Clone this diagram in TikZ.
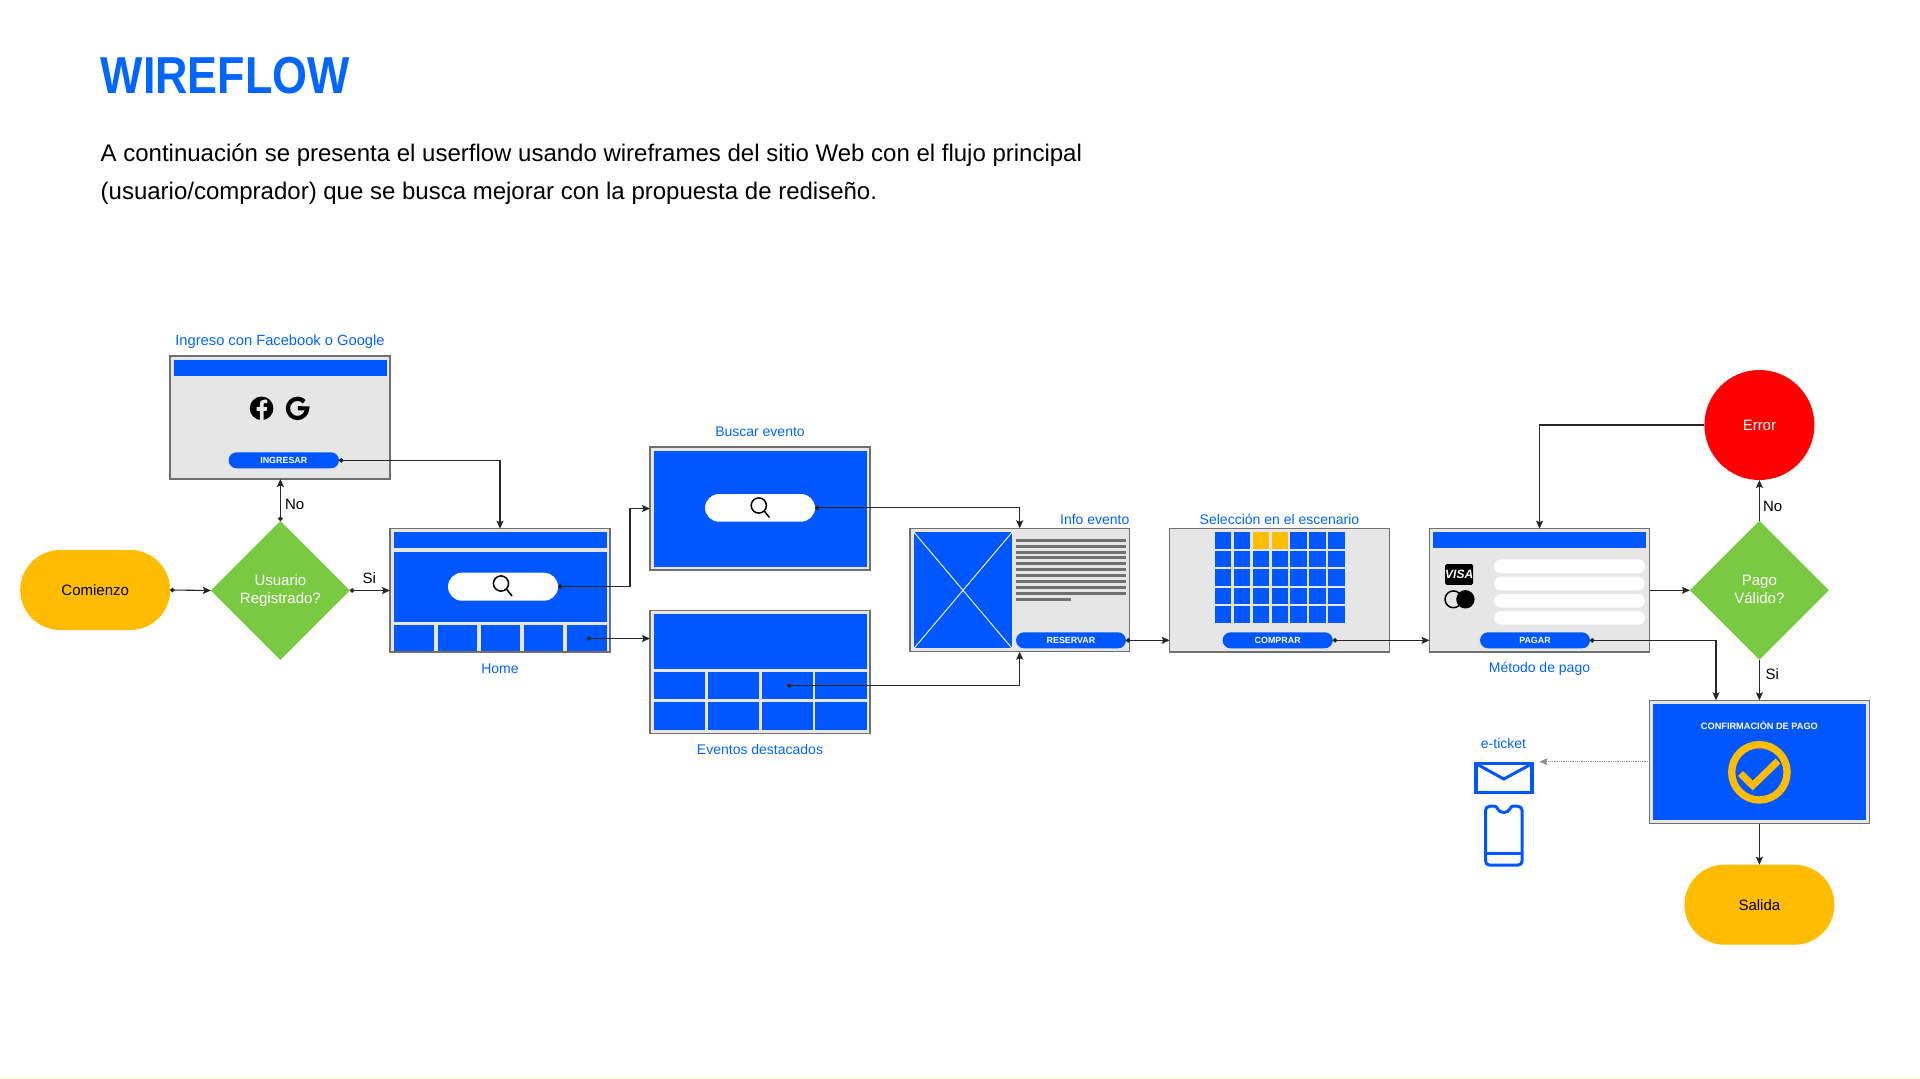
\documentclass[tikz,border=0pt]{standalone}
\usepackage{fontspec}
\setmainfont{Liberation Sans}
\newfontfamily\titlefont[FakeStretch=0.863]{Liberation Sans Bold}
\usetikzlibrary{arrows.meta,shapes.geometric,shapes.misc,fit}
\definecolor{wfblue}{HTML}{0057FF}
\definecolor{txtblue}{HTML}{0066FF}
\definecolor{wfyellow}{HTML}{FFBC00}
\definecolor{wfgreen}{HTML}{7AC943}
\definecolor{wfgray}{HTML}{E6E6E6}
\definecolor{wfedge}{HTML}{707070}
\tikzset{
  screen/.style={draw=wfedge,line width=1.4pt,fill=wfgray,inner sep=0pt,outer sep=0pt},
  panel/.style={fill=wfblue,draw=none,inner sep=0pt,outer sep=0pt},
  pill/.style={fill=wfblue,draw=none,text=white,rounded corners=8pt,minimum height=16pt,inner sep=0pt,outer sep=0pt,font=\fontsize{8.9}{10}\selectfont\bfseries},
  field/.style={fill=white,draw=none,rounded corners=7pt,inner sep=0pt,outer sep=0pt},
  caption/.style={text=txtblue,inner sep=0pt,font=\fontsize{14}{17}\selectfont},
  terminal/.style={fill=wfyellow,draw=none,rounded rectangle,minimum width=150pt,minimum height=80pt,inner sep=0pt,outer sep=0pt,font=\fontsize{15}{18}\selectfont},
  decision/.style={fill=wfgreen,draw=none,diamond,aspect=1,minimum width=139pt,minimum height=139pt,inner sep=0pt,outer sep=0pt,text=white,align=center,font=\fontsize{15}{17.5}\selectfont},
  edgelabel/.style={inner sep=0pt,font=\fontsize{15}{18}\selectfont},
  conn/.style={draw=black!85,line width=1.1pt,-{Stealth[length=8pt,width=7pt,inset=1.5pt]}},
  dotconn/.style={conn,{Circle[length=4.5pt,width=4.5pt]}-{Stealth[length=8pt,width=7pt,inset=1.5pt]}},
  hint/.style={draw=black!45,line width=0.8pt,densely dotted,-{Stealth[length=8pt,width=7pt,inset=1.5pt]}},
  txtline/.style={draw=wfedge,line width=3pt},
  lens/.style={draw=black,line width=1.5pt}
}
\begin{document}
\begin{tikzpicture}[x=1pt,y=-1pt]
\useasboundingbox[fill=white] (0,0) rectangle (1920,1079);
\fill[yellow!25] (0,1078) rectangle (1920,1079);
% header text
\node[anchor=base west,inner sep=0pt,text=txtblue,font=\fontsize{52}{60}\titlefont] (title) at (100.5,93) {WIREFLOW};
\node[anchor=base west,inner sep=0pt,font=\fontsize{24}{30}\selectfont] (introa) at (100.5,161.5) {A continuación se presenta el userflow usando wireframes del sitio Web con el flujo principal};
\node[anchor=base west,inner sep=0pt,font=\fontsize{24}{30}\selectfont] (introb) at (100.5,199) {(usuario/comprador) que se busca mejorar con la propuesta de rediseño.};

% start / decision
\node[terminal,minimum width=150pt] (start) at (95.2,590) {Comienzo};
\node[decision] (userq) at (280.4,590.5) {Usuario\\Registrado?};

% login screen
\node[screen,fit={(170,356)(390,479)}] (login) {};
\node[panel,fit={(174,360)(386.5,376)}] (loginbar) {};
\fill[black] (261.6,408.3) circle[radius=11.8pt];
\fill[wfgray] (263.5,420) -- (263.5,410.8) -- (266.6,410.8) -- (267.2,407.2) -- (263.5,407.2) -- (263.5,404.9) .. controls (263.5,403.6) and (264.2,403) .. (265.4,403) -- (267.3,403) -- (267.3,399.8) .. controls (263.5,399.2) and (259.8,399.8) .. (259.8,404.4) -- (259.8,407.2) -- (256.5,407.2) -- (256.5,410.8) -- (259.8,410.8) -- (259.8,420) -- cycle;
\draw[black,line width=4.2pt] (304.3,401.6) arc[start angle=45,end angle=360,radius=9.6pt] -- (297.8,408.3);
\node[pill,minimum width=110.4pt] (ingresar) at (283.8,460.3) {INGRESAR};
\node[caption,font=\fontsize{14.7}{17}\selectfont] (loginlabel) at (280,341.5) {Ingreso con Facebook o Google};

% home screen
\node[screen,fit={(390,528.7)(610,652)}] (home) {};
\node[panel,fit={(394,532.3)(606.5,548.3)}] (homebar) {};
\node[panel,fit={(394,552.3)(606.5,621.7)}] (homehero) {};
\node[panel,fit={(394,625)(433.5,651.3)}] (homec1) {};
\node[panel,fit={(437.5,625)(476.7,651.3)}] (homec2) {};
\node[panel,fit={(480.8,625)(520,651.3)}] (homec3) {};
\node[panel,fit={(524,625)(563,651.3)}] (homec4) {};
\node[panel,fit={(567,625)(606.5,651.3)}] (homec5) {};
\coordinate (homedot) at (586.5,638.5);
\node[field,rounded corners=14pt,fit={(448,572.7)(558,600.7)}] (homesearch) {};
\draw[lens] (501,583.5) circle[radius=7.6pt] (506.4,589) -- (512,596);
\node[caption] (homelabel) at (500,668.5) {Home};

% search screen
\node[screen,fit={(650,447)(870,570)}] (search) {};
\node[panel,fit={(653.5,450.7)(866.5,566.7)}] (searchhero) {};
\node[field,rounded corners=14pt,fit={(705,494)(815,521.7)}] (searchbox) {};
\draw[lens] (758.8,505.5) circle[radius=7.6pt] (764.2,511) -- (769.5,517.5);
\node[caption] (searchlabel) at (760,431.7) {Buscar evento};

% featured screen
\node[screen,fit={(650,610.7)(870,733.7)}] (featured) {};
\node[panel,fit={(653.5,614.3)(866.5,669.3)}] (feathero) {};
\foreach \n/\xa/\xb in {1/653.5/705,2/707.8/759,3/761.6/812.7,4/815/866.5}{
  \node[panel,fit={(\xa,671.7)(\xb,699.3)}] (feata\n) {};
  \node[panel,fit={(\xa,702.3)(\xb,730.3)}] (featb\n) {};
}
\coordinate (featdot) at (787,685.7);
\node[caption] (featlabel) at (760,749.3) {Eventos destacados};

% info screen
\node[screen,fit={(910,528.3)(1129.4,651.7)}] (info) {};
\node[panel,fit={(914,532.3)(1012,648.3)}] (infoimg) {};
\draw[white,line width=0.9pt] (infoimg.north west) -- (infoimg.south east) (infoimg.north east) -- (infoimg.south west);
\foreach \yy in {540,546,552,557.7,563.7,569.7,575.7,581.7,587.7,593.7}{
  \draw[txtline] (1015.5,\yy) -- (1126,\yy);
}
\draw[txtline] (1015.5,599.7) -- (1071,599.7);
\node[pill,minimum width=110pt] (reservar) at (1071,640.3) {RESERVAR};
\node[caption,anchor=east] (infolabel) at (1129.6,519.3) {Info evento};

% seat selection screen
\node[screen,fit={(1169.7,528.7)(1389.7,652)}] (seats) {};
\foreach \r in {0,...,4}{
  \foreach \c in {0,...,6}{
    \pgfmathsetmacro{\sx}{1214.7+18.94*\c}
    \pgfmathsetmacro{\sy}{532.3+18.5*\r}
    \fill[wfblue] (\sx,\sy) rectangle ++(16.5,16.3);
  }
}
\fill[wfyellow] (1252.6,532.3) rectangle ++(16.5,16.3);
\fill[wfyellow] (1271.5,532.3) rectangle ++(16.5,16.3);
\node[pill,minimum width=110.2pt] (comprar) at (1277.7,640.3) {COMPRAR};
\node[caption] (seatslabel) at (1279.5,519.3) {Selección en el escenario};

% payment screen
\node[screen,fit={(1429.5,528.7)(1649.6,652)}] (pay) {};
\node[panel,fit={(1433.4,532.3)(1645.5,548.3)}] (paybar) {};
\node[field,fit={(1494,559.3)(1645,573.3)}] (payf1) {};
\node[field,fit={(1494,576.7)(1645,590.3)}] (payf2) {};
\node[field,fit={(1494,594)(1645,607.7)}] (payf3) {};
\node[field,fit={(1494,611)(1645,624.7)}] (payf4) {};
\node[fill=black,rounded corners=1.5pt,minimum width=26.3pt,minimum height=20.7pt,inner sep=0pt,text=white,font=\fontsize{12}{12}\selectfont\bfseries\itshape] (visa) at (1459.2,574.4) {VISA};
\draw[black,line width=1.5pt] (1453.4,599.3) circle[radius=8.4pt];
\fill[black] (1465.4,599.3) circle[radius=9.2pt];
\node[pill,minimum width=110pt] (pagar) at (1535,640.3) {PAGAR};
\node[caption] (paylabel) at (1539.5,668.5) {Método de pago};

% decision / error
\node[decision] (payq) at (1759.4,590.3) {Pago\\Válido?\rule[-1.7pt]{0pt}{0pt}};
\node[circle,fill=red,minimum size=110pt,inner sep=0pt,outer sep=0pt,text=white,font=\fontsize{15}{18}\selectfont] (error) at (1759.4,425) {Error};

% confirmation screen
\node[screen,fit={(1649.7,700.3)(1869.3,823.7)}] (confirm) {};
\node[panel,fit={(1653.3,704)(1865.7,820)}] (confirmhero) {};
\node[inner sep=0pt,text=white,font=\fontsize{9.2}{11}\selectfont\bfseries] (confirmtitle) at (1759.4,725.7) {CONFIRMACIÓN DE PAGO};
\draw[wfyellow,line width=7.3pt] (1759.4,772.3) circle[radius=27.7pt];
\draw[wfyellow,line width=7pt] (1740.5,773.5) -- (1752.7,785.5) -- (1778,761);
\coordinate (confirmdrop) at (1716,700.3);
\node[terminal] (finish) at (1759.4,904.7) {Salida};

% e-ticket
\node[caption] (ticketlabel) at (1503.5,743.3) {e-ticket};
\node[draw=wfblue,line width=3.4pt,minimum width=56pt,minimum height=29.5pt,inner sep=0pt,outer sep=1.7pt] (mail) at (1503.8,778) {};
\coordinate (hintend) at (1539.5,761.7);
\draw[wfblue,line width=3pt] (1477.5,764.5) -- (1503.8,779) -- (1530.5,764.5);
\draw[wfblue,line width=3pt,line join=round]
  (1490,806.2) -- (1495,806.2) .. controls (1497.5,806.2) and (1497.5,812.5) .. (1503.8,812.5)
  .. controls (1510,812.5) and (1510,806.2) .. (1512.5,806.2) -- (1517.5,806.2)
  .. controls (1520.5,806.2) and (1522.2,808) .. (1522.2,811) -- (1522.2,860.5)
  .. controls (1522.2,863.5) and (1520.5,865.2) .. (1517.5,865.2) -- (1490,865.2)
  .. controls (1487,865.2) and (1485.5,863.5) .. (1485.5,860.5) -- (1485.5,811)
  .. controls (1485.5,808) and (1487,806.2) .. (1490,806.2) -- cycle;
\draw[wfblue,line width=3pt] (1485.5,853.3) -- (1522.2,853.3);

% connectors
\draw[dotconn] (start.east) -- (userq.west);
\draw[dotconn] (userq.east) -- (home.west |- userq.east);
\draw[dotconn] (userq.north) -- (login.south -| userq.north);
\draw[dotconn] (ingresar.east) -| (home.north);
\draw[dotconn] (homesearch.east) -- ++(72,0) |- (search.west);
\draw[dotconn] (homedot) -- (featured.west |- homedot);
\draw[dotconn] (searchbox.east) -| (info.north);
\draw[dotconn] (featdot) -| (info.south);
\draw[dotconn] (reservar.east) -- (seats.west |- reservar.east);
\draw[dotconn] (comprar.east) -- (pay.west |- comprar.east);
\draw[conn] (pay.east |- payq.west) -- (payq.west);
\draw[conn] (payq.north) -- (error.south);
\draw[conn] (error.west) -| (pay.north);
\draw[dotconn] (pagar.east) -| (confirmdrop);
\draw[conn] (payq.south) -- (confirm.north -| payq.south);
\draw[conn] (confirm.south -| finish.north) -- (finish.north);
\draw[hint] (confirm.west |- hintend) -- (hintend);

% edge labels
\node[edgelabel] (nolbl) at (294.7,504.5) {No};
\node[edgelabel] (silbl) at (369.4,578.3) {Si};
\node[edgelabel] (nolblb) at (1772.7,506.7) {No};
\node[edgelabel] (silblb) at (1772.3,674) {Si};
\end{tikzpicture}
\end{document}
